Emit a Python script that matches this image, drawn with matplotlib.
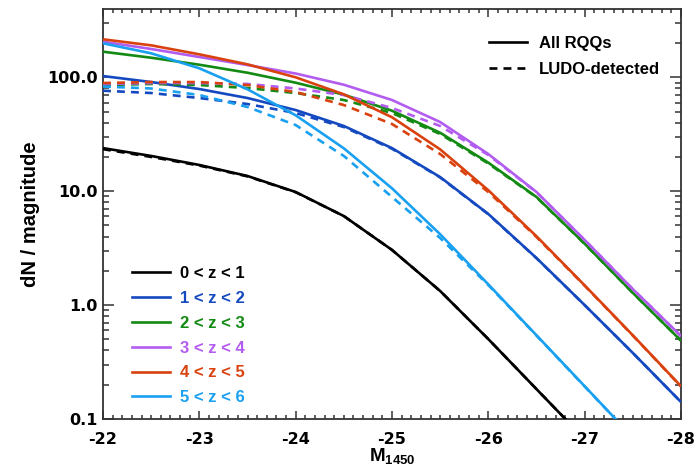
import numpy as np
import matplotlib
matplotlib.use("Agg")
import matplotlib.pyplot as plt
from matplotlib.lines import Line2D
from matplotlib.ticker import LogLocator, MultipleLocator, FixedFormatter, FixedLocator, NullFormatter

plt.rcParams['font.family'] = ['Liberation Sans', 'DejaVu Sans']
plt.rcParams['font.weight'] = 'bold'
plt.rcParams['axes.unicode_minus'] = False
plt.rcParams['mathtext.fontset'] = 'custom'
plt.rcParams['mathtext.bf'] = 'Liberation Sans:bold'
plt.rcParams['mathtext.rm'] = 'Liberation Sans:bold'

# Absolute magnitude grid (M1450)
mag = [-22.0, -22.5, -23.0, -23.5, -24.0, -24.5, -25.0, -25.5, -26.0, -26.5, -27.0, -27.5, -28.0]

# Number counts per magnitude, all radio-quiet quasars (solid)
all_z01 = [23.9, 20.4, 17.0, 13.6, 9.84, 6.05, 3.05, 1.33, 0.503, 0.183, 0.0667, None, None]
all_z12 = [102.6, 90.9, 78.9, 65.8, 51.6, 37.4, 23.9, 13.3, 6.31, 2.59, 1.00, 0.380, 0.141]
all_z23 = [167.9, 148.6, 129.0, 109.7, 89.7, 70.4, 50.9, 32.6, 17.8, 8.9, 3.46, 1.28, 0.487]
all_z34 = [205.5, 177.3, 150.8, 128.2, 108.0, 86.1, 63.2, 40.5, 21.2, 9.84, 3.73, 1.38, 0.535]
all_z45 = [215.7, 190.9, 159.2, 130.0, 100.0, 70.9, 44.6, 23.3, 10.2, 4.02, 1.49, 0.543, 0.194]
all_z56 = [199, 162.5, 120, 78.5, 46.4, 23.8, 10.6, 4.19, 1.52, 0.543, 0.194, 0.069, None]

# Number counts per magnitude, LUDO-detected quasars (dashed)
det_z01 = [23.4, 20.0, 16.8, 13.5, 9.8, 6.05, 3.05, 1.33, 0.503, 0.183, 0.0667, None, None]
det_z12 = [76.3, 72.8, 65.8, 58.3, 48.6, 36.6, 23.6, 13.2, 6.28, 2.58, 1.00, 0.380, 0.141]
det_z23 = [85.6, 87.4, 85.6, 80.5, 72.8, 63.2, 48.6, 31.8, 17.5, 8.85, 3.45, 1.28, 0.487]
det_z34 = [87.4, 89.1, 89.1, 87.4, 79.8, 69.9, 53.8, 37.4, 20.8, 9.8, 3.73, 1.38, 0.535]
det_z45 = [89.1, 90.9, 90.9, 85.6, 74.3, 57.1, 38.9, 21.2, 9.84, 3.96, 1.48, 0.540, 0.193]
det_z56 = [83.0, 79.8, 69.9, 54.9, 38.1, 20.4, 8.9, 3.88, 1.50, 0.540, 0.193, 0.069, None]

z_labels = ['0 < z < 1', '1 < z < 2', '2 < z < 3', '3 < z < 4', '4 < z < 5', '5 < z < 6']
colors = ['#000000', '#1449c0', '#138a13', '#b35cf0', '#d9420f', '#1aa0f0']

y_ticks = [0.1, 1.0, 10.0, 100.0]
y_ticklabels = ['0.1', '1.0', '10.0', '100.0']
x_ticks = [-22, -23, -24, -25, -26, -27, -28]

all_series = [all_z01, all_z12, all_z23, all_z34, all_z45, all_z56]
det_series = [det_z01, det_z12, det_z23, det_z34, det_z45, det_z56]

W, H = 698, 473
fig = plt.figure(figsize=(W / 100, H / 100), dpi=100)
ax = fig.add_axes([103 / W, 1 - 419 / H, (681 - 103) / W, (419 - 9) / H])

lw = 1.9
dash = (3.0, 2.3)


def clean(m, v):
    pairs = [(a, b) for a, b in zip(m, v) if b is not None]
    return [p[0] for p in pairs], [p[1] for p in pairs]


for solid, dashed, c in zip(all_series, det_series, colors):
    mx, my = clean(mag, solid)
    ax.plot(mx, my, color=c, lw=lw, solid_capstyle='butt', solid_joinstyle='round', zorder=3)
    dx, dy = clean(mag, dashed)
    ax.plot(dx, dy, color=c, lw=lw, dashes=dash, zorder=3)

ax.set_yscale('log')
ax.set_xlim(-22, -28)
ax.set_ylim(0.1, 398)

tick_font = {'family': 'DejaVu Sans', 'weight': 'bold', 'size': 11.5}
ax.yaxis.set_major_locator(FixedLocator(y_ticks))
ax.yaxis.set_major_formatter(FixedFormatter(y_ticklabels))
ax.yaxis.set_minor_locator(LogLocator(base=10, subs=np.arange(2, 10)))
ax.yaxis.set_minor_formatter(NullFormatter())
ax.xaxis.set_major_locator(FixedLocator(x_ticks))
ax.set_xticklabels([str(t) for t in x_ticks])
ax.xaxis.set_minor_locator(MultipleLocator(0.1))

ax.tick_params(which='both', direction='in', top=True, right=True, colors='#333333',
               labelcolor='black', width=1.1)
ax.tick_params(axis='x', which='major', length=5.5, pad=9.5)
ax.tick_params(axis='x', which='minor', length=3.1)
ax.tick_params(axis='y', which='major', length=8, pad=4)
ax.tick_params(axis='y', which='minor', length=4)
for lab in ax.get_xticklabels() + ax.get_yticklabels():
    lab.set_fontproperties(tick_font)
for sp in ax.spines.values():
    sp.set_linewidth(1.3)
    sp.set_color('#333333')

ax.set_xlabel(r'$\mathbf{M}_{\mathbf{1450}}$', fontsize=13.5, labelpad=0)
ax.set_ylabel('dN / magnitude', fontsize=14.5, fontweight='bold', labelpad=5)

# Redshift legend, lower left
z_handles = [Line2D([], [], color=c, lw=lw) for c in colors]
leg1 = ax.legend(z_handles, z_labels, loc='upper left', frameon=False,
                 bbox_to_anchor=(132 / W, 1 - 266 / H), bbox_transform=fig.transFigure,
                 handlelength=2.3, handletextpad=0.55, labelspacing=0.59,
                 borderpad=0, borderaxespad=0, labelcolor='linecolor',
                 prop={'weight': 'bold', 'size': 12})
ax.add_artist(leg1)

# Line-style legend, upper right
s_handles = [Line2D([], [], color='black', lw=lw),
             Line2D([], [], color='black', lw=lw, dashes=dash)]
ax.legend(s_handles, ['All RQQs', 'LUDO-detected'], loc='upper left', frameon=False,
          bbox_to_anchor=(489 / W, 1 - 36 / H), bbox_transform=fig.transFigure,
          handlelength=2.3, handletextpad=0.7, labelspacing=0.67,
          borderpad=0, borderaxespad=0, prop={'weight': 'bold', 'size': 12})

fig.savefig('out.png', dpi=100)
